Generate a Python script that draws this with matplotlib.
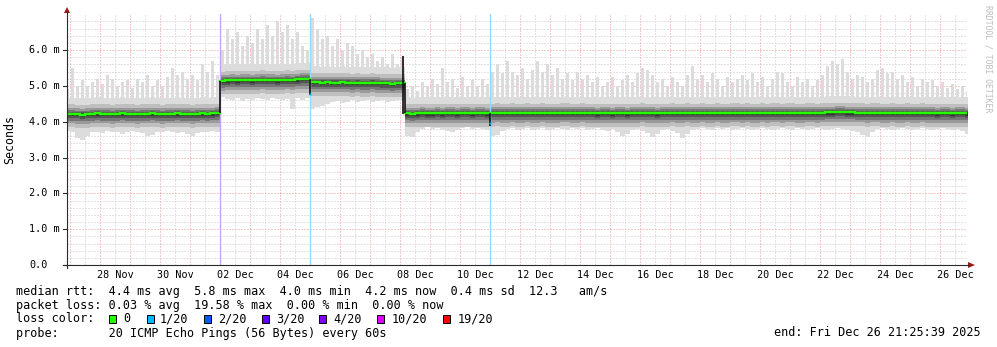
import numpy as np
import matplotlib
matplotlib.use("Agg")
import matplotlib.pyplot as plt
from matplotlib.lines import Line2D
from matplotlib.patches import Polygon, Rectangle
from matplotlib.transforms import blended_transform_factory

# ---- values (round trip times in ms) ----
end_time = np.datetime64("2025-12-26T21:25:39")
start_time = end_time - np.timedelta64(30, "D")
first_bin = np.datetime64("2025-11-26T20:00:00")  # 4 hour steps
bin_hours = 4

median_rtt = [
    # 26 Nov 20:00 .. 01 Dec 24:00
    4.22, 4.22, 4.21, 4.20, 4.21, 4.22, 4.23, 4.22, 4.22, 4.21,
    4.22, 4.23, 4.22, 4.22, 4.21, 4.22, 4.22, 4.23, 4.22, 4.21,
    4.22, 4.22, 4.23, 4.22, 4.22, 4.21, 4.22, 4.23, 4.22, 4.23,
    4.24,
    # 02 Dec .. 04 Dec
    5.14, 5.15, 5.16, 5.15, 5.16, 5.16, 5.15, 5.16, 5.17, 5.16,
    5.16, 5.15, 5.16, 5.17, 5.16, 5.18, 5.19, 5.19,
    # 05 Dec .. 08 Dec 04:00
    5.10, 5.10, 5.09, 5.10, 5.09, 5.09, 5.10, 5.09, 5.08, 5.09,
    5.08, 5.08, 5.09, 5.08, 5.07, 5.07, 5.06, 5.07, 5.07,
    # 08 Dec 04:00 .. end
    4.23, 4.22, 4.23, 4.24, 4.23, 4.23, 4.24, 4.23, 4.24, 4.24,
    4.23, 4.24, 4.24, 4.23, 4.24, 4.24, 4.23, 4.24, 4.25, 4.24,
    4.24, 4.25, 4.24, 4.24, 4.25, 4.24, 4.24, 4.25, 4.24, 4.24,
    4.24, 4.25, 4.25, 4.24, 4.24, 4.25, 4.24, 4.24, 4.23, 4.24,
    4.24, 4.23, 4.24, 4.24, 4.23, 4.24, 4.24, 4.25, 4.24, 4.24,
    4.23, 4.24, 4.24, 4.25, 4.24, 4.24, 4.25, 4.24, 4.24, 4.25,
    4.24, 4.24, 4.25, 4.24, 4.24, 4.25, 4.25, 4.24, 4.25, 4.24,
    4.24, 4.25, 4.24, 4.25, 4.25, 4.24, 4.25, 4.25, 4.24, 4.24,
    4.25, 4.25, 4.24, 4.25, 4.26, 4.26, 4.27, 4.27, 4.26, 4.26,
    4.25, 4.25, 4.24, 4.25, 4.25, 4.24, 4.24, 4.25, 4.24, 4.24,
    4.25, 4.24, 4.24, 4.25, 4.24, 4.24, 4.23, 4.24, 4.24, 4.23,
    4.24, 4.24, 4.23,
]

# slowest ping of each step (top of the light smoke)
smoke_high = [
    4.90, 5.50, 5.00, 5.15, 5.00, 5.10, 5.20, 5.05, 5.30, 5.20,
    5.00, 5.10, 5.15, 4.95, 5.20, 5.10, 5.30, 5.00, 5.15, 5.00,
    5.25, 5.50, 5.30, 5.40, 5.20, 5.30, 5.15, 5.60, 5.40, 5.70,
    5.30,
    6.00, 6.60, 6.30, 6.50, 6.10, 6.40, 6.20, 6.60, 6.30, 6.70,
    6.40, 6.80, 6.50, 6.70, 6.30, 6.50, 6.10, 6.00,
    6.90, 6.60, 6.30, 6.40, 6.10, 6.30, 6.00, 6.20, 6.10, 5.90,
    6.00, 5.80, 5.90, 5.70, 5.80, 5.60, 5.90, 5.60, 5.80,
    4.90, 5.00, 4.85, 5.10, 5.00, 5.20, 5.05, 5.50, 5.10, 5.20,
    4.95, 5.25, 5.00, 5.15, 5.00, 5.20, 5.05, 5.40, 5.60, 5.35,
    5.70, 5.40, 5.30, 5.50, 5.20, 5.45, 5.70, 5.40, 5.60, 5.30,
    5.50, 5.20, 5.35, 5.15, 5.40, 5.20, 5.30, 5.10, 5.25, 5.00,
    5.10, 5.25, 5.00, 5.15, 5.30, 5.10, 5.35, 5.50, 5.45, 5.30,
    5.10, 5.20, 5.00, 5.25, 5.10, 5.00, 5.30, 5.55, 5.20, 5.30,
    5.10, 5.35, 5.20, 5.00, 5.25, 5.10, 5.20, 5.30, 5.15, 5.35,
    5.10, 5.25, 5.00, 5.20, 5.40, 5.35, 5.10, 5.00, 5.25, 5.10,
    5.20, 5.00, 5.15, 5.30, 5.55, 5.70, 5.60, 5.75, 5.40, 5.20,
    5.30, 5.25, 5.10, 5.20, 5.45, 5.50, 5.35, 5.40, 5.20, 5.30,
    5.10, 5.25, 5.00, 5.20, 5.10, 5.15, 5.00, 5.10, 4.95, 5.05,
    4.90, 5.00, 4.85,
]

# fastest ping of each step (bottom of the light smoke)
smoke_low = [
    3.75, 3.70, 3.55, 3.50, 3.60, 3.70, 3.72, 3.68, 3.75, 3.70,
    3.72, 3.65, 3.70, 3.75, 3.70, 3.68, 3.60, 3.62, 3.70, 3.72,
    3.75, 3.70, 3.68, 3.72, 3.65, 3.60, 3.68, 3.70, 3.72, 3.75,
    3.70,
    4.70, 4.62, 4.60, 4.65, 4.58, 4.62, 4.60, 4.65, 4.62, 4.60,
    4.65, 4.63, 4.60, 4.62, 4.35, 4.65, 4.60, 4.65,
    4.35, 4.40, 4.45, 4.50, 4.55, 4.58, 4.52, 4.55, 4.60, 4.55,
    4.58, 4.60, 4.55, 4.58, 4.60, 4.55, 4.58, 4.60, 4.58,
    3.60, 3.58, 3.70, 3.80, 3.85, 3.80, 3.82, 3.78, 3.75, 3.70,
    3.78, 3.82, 3.85, 3.80, 3.82, 3.80, 3.78, 3.60, 3.62, 3.75,
    3.80, 3.82, 3.78, 3.80, 3.82, 3.78, 3.80, 3.82, 3.78, 3.80,
    3.82, 3.80, 3.78, 3.82, 3.80, 3.82, 3.78, 3.80, 3.82, 3.78,
    3.75, 3.80, 3.72, 3.60, 3.65, 3.78, 3.80, 3.75, 3.68, 3.58,
    3.65, 3.78, 3.80, 3.75, 3.68, 3.55, 3.65, 3.78, 3.80, 3.82,
    3.80, 3.78, 3.82, 3.80, 3.82, 3.78, 3.80, 3.82, 3.80, 3.78,
    3.80, 3.82, 3.80, 3.78, 3.80, 3.82, 3.80, 3.78, 3.82, 3.80,
    3.78, 3.80, 3.82, 3.80, 3.78, 3.80, 3.82, 3.80, 3.78, 3.75,
    3.70, 3.62, 3.58, 3.70, 3.80, 3.82, 3.80, 3.78, 3.80, 3.82,
    3.80, 3.78, 3.80, 3.82, 3.80, 3.78, 3.80, 3.82, 3.80, 3.78,
    3.80, 3.75, 3.65,
]

# spread of the smoke bands around the median (ms)
light_up = 0.45
band_up = [0.26, 0.16, 0.10, 0.06, 0.03]
band_down = [0.38, 0.27, 0.19, 0.12, 0.06]
band_colors = ["#bfbfbf", "#9a9a9a", "#767676", "#555555", "#333333"]

# loss events
loss_times = ["2025-12-02T00:00", "2025-12-05T00:00", "2025-12-11T00:00"]
loss_line_colors = ["#c8a0ff", "#90dcff", "#90dcff"]
# level changes / glitches of the median (black vertical strokes)
glitch_times = ["2025-12-02T00:00", "2025-12-05T00:00", "2025-12-08T02:20",
                "2025-12-08T04:00", "2025-12-11T00:00"]
glitch_low = [4.24, 4.75, 4.22, 4.23, 3.88]
glitch_high = [5.14, 5.19, 5.82, 5.07, 4.23]
loss_dot_times = ["2025-12-05T00:00", "2025-12-11T00:00"]
loss_dot_values = [4.78, 3.95]

tick_dates = ["2025-11-28", "2025-11-30", "2025-12-02", "2025-12-04",
              "2025-12-06", "2025-12-08", "2025-12-10", "2025-12-12",
              "2025-12-14", "2025-12-16", "2025-12-18", "2025-12-20",
              "2025-12-22", "2025-12-24", "2025-12-26"]
tick_labels = ["28 Nov", "30 Nov", "02 Dec", "04 Dec", "06 Dec", "08 Dec",
               "10 Dec", "12 Dec", "14 Dec", "16 Dec", "18 Dec", "20 Dec",
               "22 Dec", "24 Dec", "26 Dec"]
y_ticks = [0, 1, 2, 3, 4, 5, 6]
y_labels = ["0.0", "1.0 m", "2.0 m", "3.0 m", "4.0 m", "5.0 m", "6.0 m"]

loss_names = ["0", "1/20", "2/20", "3/20", "4/20", "10/20", "19/20"]
loss_colors = ["#26ff00", "#00b8ff", "#0059ff", "#5e00ff", "#7e00ff",
               "#dd00ff", "#ff0000"]

legend_lines = [
    "median rtt:  4.4 ms avg  5.8 ms max  4.0 ms min  4.2 ms now  0.4 ms sd  12.3   am/s",
    "packet loss: 0.03 % avg  19.58 % max  0.00 % min  0.00 % now",
    "loss color:",
    "probe:       20 ICMP Echo Pings (56 Bytes) every 60s",
]
end_label = "end: Fri Dec 26 21:25:39 2025"

# ---- drawing ----
W, H = 997, 347
MONO = "DejaVu Sans Mono"


def fx(px):
    return px / W


def fy(py):
    return 1 - py / H


def days(t):
    t = np.asarray(t, dtype="datetime64[s]")
    return (t - start_time) / np.timedelta64(1, "D")


def step(a):
    return np.append(a, a[-1])


fig = plt.figure(figsize=(W / 100, H / 100), dpi=100)
fig.patch.set_facecolor("white")

X0, X1, Y0 = 67, 967, 265
px_per_ms = 35.83
YTOP = Y0 - 7.0 * px_per_ms
ax = fig.add_axes([fx(X0), fy(Y0), (X1 - X0) / W, (Y0 - YTOP) / H])
ax.set_xlim(0, 30)
ax.set_ylim(0, 7.0)
ax.axis("off")

n = len(median_rtt)
edges = days(first_bin + np.arange(n + 1) * np.timedelta64(bin_hours, "h"))
centers = (edges[:-1] + edges[1:]) / 2
bw = edges[1] - edges[0]
med = np.array(median_rtt)
hi = np.array(smoke_high)
lo = np.array(smoke_low)

# grid (light dotted lines, behind the smoke)
dots = (0, (1, 2))
midnights = np.arange(np.datetime64("2025-11-27"), np.datetime64("2025-12-27"),
                      np.timedelta64(1, "D"))
minor_col, major_col = "#c8c8c8", "#e89494"
grid_kw = dict(lw=0.72, ls=dots, snap=True, zorder=0.5)
for d in days(midnights + np.timedelta64(12, "h")):
    ax.axvline(d, color=minor_col, **grid_kw)
for d in days(midnights):
    ax.axvline(d, color=major_col, **grid_kw)
for v in np.arange(0.2, 7.0, 0.2):
    col = major_col if abs(v - round(v)) < 1e-6 else minor_col
    ax.axhline(v, color=col, **grid_kw)

# smoke
ax.fill_between(edges, step(lo), step(med + light_up), step="post",
                color="#dcdcdc", lw=0, zorder=1)
ax.bar(centers, hi - (med + light_up), bottom=med + light_up, width=bw * 0.55,
       color="#dcdcdc", lw=0, zorder=1)
for up, dn, c in zip(band_up, band_down, band_colors):
    ax.fill_between(edges, step(med - dn), step(med + up), step="post",
                    color=c, lw=0, zorder=2)

# loss markers
for t, c in zip(loss_times, loss_line_colors):
    ax.axvline(days(t), color=c, lw=1.0, zorder=4)

# median
ax.hlines(med, edges[:-1], edges[1:], color="#26ff00", lw=1.7,
          capstyle="projecting", zorder=6)
ax.vlines(days(glitch_times), glitch_low, glitch_high, color="#101010", lw=1.2, zorder=7)
ax.plot(days(loss_dot_times), loss_dot_values, "s", ms=1.8, color="#00b8ff",
        mec="none", zorder=8)

# axes lines and arrows
axis_col = "#2a2a2a"
arrow_col = "#a01818"
fig.add_artist(Line2D([fx(X0), fx(X0)], [fy(268), fy(12)], color=axis_col, lw=0.8))
fig.add_artist(Line2D([fx(63), fx(969)], [fy(Y0), fy(Y0)], color=axis_col, lw=0.8))
fig.add_artist(Polygon([[fx(64), fy(13)], [fx(70), fy(13)], [fx(67), fy(7)]],
                       closed=True, color=arrow_col, lw=0))
fig.add_artist(Polygon([[fx(968), fy(262)], [fx(968), fy(268)], [fx(975), fy(265)]],
                       closed=True, color=arrow_col, lw=0))

ty = blended_transform_factory(fig.transFigure, ax.transData)
tx = blended_transform_factory(ax.transData, fig.transFigure)
for v, lab in zip(y_ticks, y_labels):
    fig.add_artist(Line2D([fx(63), fx(X0)], [v, v], transform=ty, color=axis_col, lw=0.8))
    ax.text(fx(29), v, lab, transform=ty, ha="left", va="center",
            family=MONO, fontsize=7.3, color="#000000", clip_on=False)
for d, lab in zip(tick_dates, tick_labels):
    noon = np.datetime64(d + "T12:00")
    ax.text(days(noon), fy(275), lab, transform=tx, ha="center", va="center",
            family=MONO, fontsize=7.3, color="#000000", clip_on=False)

fig.text(fx(10), fy(140), "Seconds", rotation=90, ha="center", va="center",
         family=MONO, fontsize=8.4)
fig.text(fx(988), fy(5), "RRDTOOL / TOBI OETIKER", rotation=270, ha="center",
         va="top", family=MONO, fontsize=5.9, color="#bdbdbd")

# legend
line_y = [291, 305, 319, 333]
for yy, txt in zip(line_y, legend_lines):
    fig.text(fx(16), fy(yy), txt, ha="left", va="center", family=MONO, fontsize=8.5)

box_x = [109, 147, 204, 262, 319, 377, 443]
name_x = [123, 160, 218, 276, 333, 392, 458]
for bx, nx, name, c in zip(box_x, name_x, loss_names, loss_colors):
    fig.add_artist(Rectangle((fx(bx), fy(323)), 7 / W, 8 / H, facecolor=c,
                             edgecolor="#000000", lw=0.7))
    fig.text(fx(nx), fy(319), name, ha="left", va="center", family=MONO, fontsize=8.5)

fig.text(fx(981), fy(333), end_label, ha="right", va="center", family=MONO, fontsize=8.5)

fig.savefig("out.png", dpi=100, facecolor="white")
